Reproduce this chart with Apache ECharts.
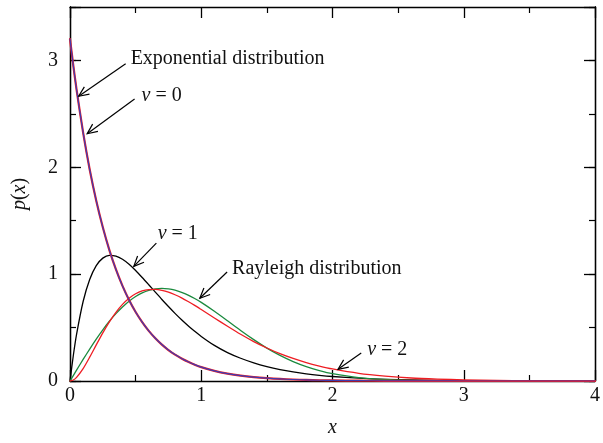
<!DOCTYPE html>
<html>
<head>
<meta charset="utf-8">
<script src="https://cdn.jsdelivr.net/npm/echarts@6/dist/echarts.min.js"></script>
<style>
  html, body { margin: 0; padding: 0; background: #fff; }
  #chart { width: 603px; height: 443px; }
</style>
</head>
<body>
<div id="chart"></div>
<script>
// Sample positions along x
const xs = [0, 0.025, 0.05, 0.1, 0.15, 0.2, 0.25, 0.3, 0.35, 0.4, 0.45, 0.5, 0.55, 0.6, 0.65, 0.7, 0.75, 0.8, 0.85, 0.9, 0.95, 1.0,
  1.1, 1.2, 1.3, 1.4, 1.5, 1.6, 1.7, 1.8, 1.9, 2.0,
  2.2, 2.4, 2.6, 2.8, 3.0,
  3.25, 3.5, 3.75, 4.0];

// Exponential distribution
const expDist = [3.2, 2.954, 2.727, 2.324, 1.980, 1.687, 1.438, 1.225, 1.044, 0.890, 0.758, 0.646, 0.551, 0.469, 0.400, 0.341, 0.290, 0.247, 0.211, 0.180, 0.153, 0.130,
  0.095, 0.069, 0.050, 0.036, 0.026, 0.019, 0.014, 0.010, 0.007, 0.005,
  0.003, 0.0015, 0.0008, 0.0004, 0.0002,
  0.0001, 0, 0, 0];

// nu = 0 coincides with the exponential curve
const nu0 = expDist.slice();

// nu = 1
const nu1 = [0, 0.236, 0.436, 0.744, 0.950, 1.080, 1.150, 1.176, 1.169, 1.139, 1.092, 1.034, 0.969, 0.901, 0.832, 0.763, 0.697, 0.633, 0.573, 0.517, 0.466, 0.417,
  0.333, 0.266, 0.213, 0.170, 0.135, 0.107, 0.085, 0.067, 0.053, 0.042,
  0.026, 0.016, 0.010, 0.006, 0.0035,
  0.0017, 0.0008, 0.0004, 0.0002];

// Rayleigh distribution
const rayleigh = [0, 0.051, 0.102, 0.202, 0.299, 0.392, 0.479, 0.559, 0.630, 0.693, 0.747, 0.791, 0.824, 0.848, 0.862, 0.867, 0.862, 0.850, 0.830, 0.804, 0.772, 0.736,
  0.653, 0.564, 0.473, 0.387, 0.308, 0.240, 0.182, 0.135, 0.098, 0.069,
  0.032, 0.014, 0.005, 0.002, 0.0006,
  0.0001, 0, 0, 0];

// nu = 2
const nu2 = [0, 0.009, 0.034, 0.116, 0.223, 0.338, 0.451, 0.554, 0.643, 0.717, 0.775, 0.816, 0.843, 0.856, 0.858, 0.849, 0.832, 0.807, 0.778, 0.744, 0.708, 0.669,
  0.590, 0.512, 0.437, 0.369, 0.309, 0.256, 0.211, 0.172, 0.140, 0.113,
  0.072, 0.046, 0.028, 0.018, 0.011,
  0.0056, 0.0029, 0.0015, 0.0008];

// Tick values
const xTicks = [0, 1, 2, 3, 4];
const yTicks = [0, 1, 2, 3];

// Callout labels: text, label anchor, arrow tail and arrow tip (data units)
const callouts = [
  { text: 'Exponential distribution', at: [0.462, 3.02], tail: [0.424, 2.97], tip: [0.066, 2.665] },
  { text: '{i|ν} = 0', at: [0.545, 2.665], tail: [0.492, 2.64], tip: [0.131, 2.314] },
  { text: '{i|ν} = 1', at: [0.668, 1.38], tail: [0.658, 1.29], tip: [0.486, 1.073] },
  { text: 'Rayleigh distribution', at: [1.235, 1.055], tail: [1.197, 1.02], tip: [0.989, 0.774] },
  { text: '{i|ν} = 2', at: [2.264, 0.29], tail: [2.219, 0.263], tip: [2.042, 0.109] }
];

const FONT = '"Liberation Serif", "DejaVu Serif", serif';
const FS = 20;
const pair = ys => xs.map((x, i) => [x, ys[i]]);

function lineSeries(name, ys, color, width, z) {
  return {
    name, type: 'line', data: pair(ys), xAxisIndex: 0, yAxisIndex: 0,
    showSymbol: false, smooth: 0.25, z,
    lineStyle: { color, width, cap: 'round', join: 'round' }, silent: true
  };
}

const chart = echarts.init(document.getElementById('chart'), null, { renderer: 'canvas' });

const axisLine = { show: true, onZero: false, lineStyle: { color: '#000', width: 1.3 } };
const majorTick = { show: true, inside: true, length: 11, lineStyle: { color: '#000', width: 1.3 } };
const minorTickLen = { show: true, inside: true, length: 6, lineStyle: { color: '#000', width: 1.2 } };

function yAxis(pos, interval, tick, labels) {
  return {
    type: 'value', position: pos, min: 0, max: 3.5, interval,
    axisLine, axisTick: tick, splitLine: { show: false },
    axisLabel: labels ? {
      show: true, color: '#111', fontFamily: FONT, fontSize: FS, margin: 12,
      formatter: v => (yTicks.indexOf(v) >= 0 ? String(v) : '')
    } : { show: false },
    name: labels ? '{i|p}({i|x})' : '', nameLocation: 'middle', nameGap: 40, nameRotate: 90,
    nameTextStyle: { fontFamily: FONT, fontSize: FS, color: '#111', rich: { i: { fontStyle: 'italic', fontFamily: FONT, fontSize: FS, color: '#111' } } }
  };
}

function xAxis(pos, labels) {
  return {
    type: 'value', position: pos, min: 0, max: 4, interval: 1,
    axisLine, axisTick: majorTick,
    minorTick: { show: true, splitNumber: 2, length: 6, lineStyle: { color: '#000', width: 1.2 } },
    splitLine: { show: false }, minorSplitLine: { show: false },
    axisLabel: labels ? {
      show: true, color: '#111', fontFamily: FONT, fontSize: FS, margin: 5,
      formatter: v => (xTicks.indexOf(v) >= 0 ? String(v) : '')
    } : { show: false },
    name: labels ? 'x' : '', nameLocation: 'middle', nameGap: 37,
    nameTextStyle: { fontFamily: FONT, fontSize: FS, fontStyle: 'italic', color: '#111' }
  };
}

const option = {
  animation: false,
  backgroundColor: '#fff',
  grid: { left: 70, right: 5, top: 7, bottom: 58, containLabel: false },
  xAxis: [xAxis('bottom', true), xAxis('top', false)],
  yAxis: [
    yAxis('left', 1, majorTick, true),
    yAxis('left', 0.5, minorTickLen, false),
    yAxis('right', 1, majorTick, false),
    yAxis('right', 0.5, minorTickLen, false)
  ],
  series: [
    lineSeries('ν = 1', nu1, '#000000', 1.3, 2),
    lineSeries('Rayleigh distribution', rayleigh, '#1b8a3e', 1.3, 3),
    lineSeries('ν = 2', nu2, '#ee1d23', 1.3, 4),
    lineSeries('ν = 0', nu0, '#ee1d23', 2.2, 5),
    lineSeries('Exponential distribution', expDist, '#3d3cb3', 1.2, 6),
    {
      type: 'custom', xAxisIndex: 0, yAxisIndex: 0, z: 10, silent: true,
      data: callouts.map((c, i) => [i]),
      renderItem: (params, api) => {
        const c = callouts[params.dataIndex];
        const a = api.coord(c.tail), b = api.coord(c.tip), t = api.coord(c.at);
        const ang = Math.atan2(b[1] - a[1], b[0] - a[0]);
        const L = 11, spread = 0.42;
        const h1 = [b[0] - L * Math.cos(ang - spread), b[1] - L * Math.sin(ang - spread)];
        const h2 = [b[0] - L * Math.cos(ang + spread), b[1] - L * Math.sin(ang + spread)];
        const stroke = { stroke: '#000', lineWidth: 1.2, fill: null };
        return {
          type: 'group',
          children: [
            { type: 'line', shape: { x1: a[0], y1: a[1], x2: b[0], y2: b[1] }, style: stroke },
            { type: 'polyline', shape: { points: [h1, b, h2] }, style: stroke },
            {
              type: 'text', x: t[0], y: t[1],
              style: {
                text: c.text, fill: '#111', font: FS + 'px ' + FONT,
                align: 'left', verticalAlign: 'middle',
                rich: { i: { fontStyle: 'italic', fontFamily: FONT, fontSize: FS, fill: '#111' } }
              }
            }
          ]
        };
      }
    }
  ]
};

chart.setOption(option);
</script>
</body>
</html>
